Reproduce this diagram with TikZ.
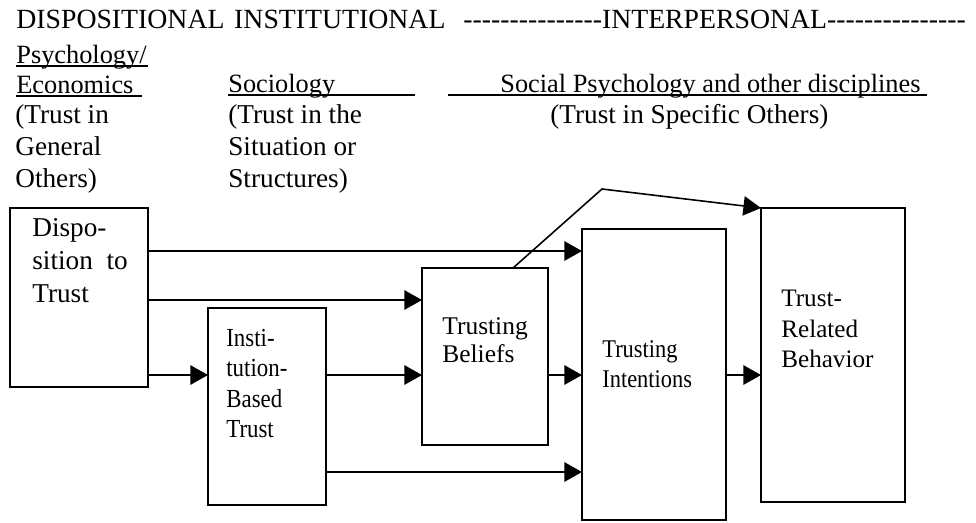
\documentclass[tikz,border=0pt]{standalone}
\usepackage{fontspec}
\setmainfont{Liberation Serif}
\newfontfamily\narrowserif[FakeStretch=0.88]{Liberation Serif}
\usetikzlibrary{arrows.meta,calc}

\newcommand{\dashrun}[1]{\foreach \n in {1,...,#1}{-\kern0pt}}

\begin{document}
\begin{tikzpicture}[x=0.02cm,y=-0.02cm,
  box/.style={draw,line width=1pt,inner sep=0pt,outer sep=0pt,anchor=north west},
  boxtext/.style={inner sep=0pt,anchor=north west,align=left},
  head/.style={inner sep=0pt,anchor=base west,font=\fontsize{15.8}{18}\selectfont},
  disc/.style={inner sep=0pt,anchor=base west,font=\fontsize{15}{18}\selectfont},
  note/.style={inner sep=0pt,anchor=north west,align=left,font=\fontsize{15.5}{18.2}\selectfont},
  uline/.style={line width=1.1pt},
  flow/.style={-{Triangle[length=10pt,width=11pt]},line width=0.9pt}]
\useasboundingbox (0,0) rectangle (976,522);

% heading rows
\node[head] (h_dis) at (16,28) {DISPOSITIONAL\hspace{0.35em}INSTITUTIONAL};
\node[head] (h_int) at (463,28) {\dashrun{15}INTERPERSONAL\dashrun{15}};

\node[disc] (psy) at (16,63) {Psychology/};
\node[disc] (eco) at (16,93) {Economics};
\node[disc] (soc) at (228,92) {Sociology};
\node[disc] (spsy) at (500,92) {Social Psychology and other disciplines};
\draw[uline] ($(psy.base west)+(0,3)$) -- ++(132,0);
\draw[uline] ($(eco.base west)+(0,3)$) -- ++(126,0);
\draw[uline] ($(soc.base west)+(0,3)$) -- ++(187,0);
\draw[uline] ($(spsy.base west)+(-52,3)$) -- ++(479,0);

\node[note] (n_gen) at (15,104) {(Trust in\\General\\Others)};
\node[note] (n_sit) at (228,104) {(Trust in the\\Situation or\\Structures)};
\node[disc,font=\fontsize{15.5}{18}\selectfont] (n_spec) at (550,123) {(Trust in Specific Others)};

% boxes
\node[box,minimum width=2.76cm,minimum height=3.58cm] (dis) at (10,208) {};
\node[box,minimum width=2.36cm,minimum height=3.94cm] (ins) at (208,308) {};
\node[box,minimum width=2.52cm,minimum height=3.54cm] (bel) at (422,268) {};
\node[box,minimum width=2.88cm,minimum height=5.82cm] (inte) at (582,229) {};
\node[box,minimum width=2.88cm,minimum height=5.88cm] (beh) at (761,208) {};

\node[boxtext,font=\fontsize{15.5}{18.8}\selectfont] (dis_t) at (32,218) {Dispo-\\sition\enspace to\\Trust};
\node[boxtext,font=\narrowserif\fontsize{14.8}{17.2}\selectfont] (ins_t) at (226,329) {Insti-\\tution-\\Based\\Trust};
\node[boxtext,font=\fontsize{14.5}{16.2}\selectfont] (bel_t) at (442,317) {Trusting\\Beliefs};
\node[boxtext,font=\narrowserif\fontsize{14.5}{17}\selectfont] (inte_t) at (602,340) {Trusting\\Intentions};
\node[boxtext,font=\fontsize{14.3}{17.4}\selectfont] (beh_t) at (781,290) {Trust-\\Related\\Behavior};

% connectors
\path (0,251) coordinate (r1) (0,300) coordinate (r2)
      (0,375) coordinate (r3) (0,472) coordinate (r4);
\coordinate (kink) at (602,189);

\draw[flow] (dis.east |- r1) -- (inte.west |- r1);
\draw[flow] (dis.east |- r2) -- (bel.west |- r2);
\draw[flow] (dis.east |- r3) -- (ins.west |- r3);
\draw[flow] (ins.east |- r3) -- (bel.west |- r3);
\draw[flow] (bel.east |- r3) -- (inte.west |- r3);
\draw[flow] (inte.east |- r3) -- (beh.west |- r3);
\draw[flow] (ins.east |- r4) -- (inte.west |- r4);
\draw[flow] ($(bel.north)+(28,0)$) -- (kink) -- (beh.north west);
\end{tikzpicture}
\end{document}
